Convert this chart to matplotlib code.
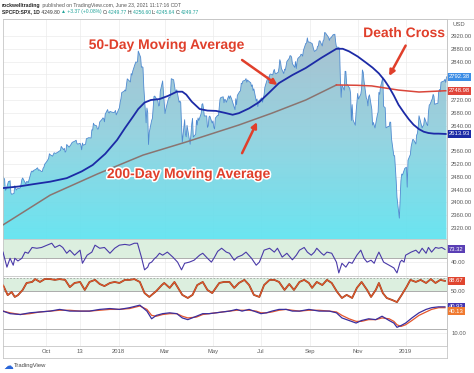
import matplotlib
matplotlib.use("Agg")
import matplotlib.pyplot as plt
import matplotlib.dates as mdates
import matplotlib.patheffects as pe
import matplotlib.transforms as mtrans
from matplotlib.lines import Line2D
from matplotlib.colors import LinearSegmentedColormap
import numpy as np
import pandas as pd

plt.rcParams['font.family'] = ['Liberation Sans', 'DejaVu Sans']

# S&P 500 daily closes
price_dates = [
    "2017-08-07", "2017-08-08", "2017-08-09", "2017-08-10", "2017-08-11", "2017-08-14", "2017-08-15", "2017-08-16",
    "2017-08-17", "2017-08-18", "2017-08-21", "2017-08-22", "2017-08-23", "2017-08-24", "2017-08-25", "2017-08-28",
    "2017-08-29", "2017-08-30", "2017-08-31", "2017-09-01", "2017-09-05", "2017-09-06", "2017-09-07", "2017-09-08",
    "2017-09-11", "2017-09-12", "2017-09-13", "2017-09-14", "2017-09-15", "2017-09-18", "2017-09-19", "2017-09-20",
    "2017-09-21", "2017-09-22", "2017-09-25", "2017-09-26", "2017-09-27", "2017-09-28", "2017-09-29", "2017-10-02",
    "2017-10-04", "2017-10-05", "2017-10-06", "2017-10-09", "2017-10-11", "2017-10-13", "2017-10-16", "2017-10-18",
    "2017-10-19", "2017-10-20", "2017-10-23", "2017-10-24", "2017-10-25", "2017-10-26", "2017-10-27", "2017-10-30",
    "2017-11-01", "2017-11-03", "2017-11-06", "2017-11-08", "2017-11-09", "2017-11-10", "2017-11-13", "2017-11-14",
    "2017-11-15", "2017-11-16", "2017-11-17", "2017-11-20", "2017-11-21", "2017-11-24", "2017-11-27", "2017-11-28",
    "2017-11-29", "2017-11-30", "2017-12-01", "2017-12-04", "2017-12-05", "2017-12-06", "2017-12-07", "2017-12-08",
    "2017-12-11", "2017-12-12", "2017-12-13", "2017-12-14", "2017-12-15", "2017-12-18", "2017-12-19", "2017-12-20",
    "2017-12-21", "2017-12-22", "2017-12-26", "2017-12-27", "2017-12-28", "2017-12-29",
    "2018-01-02", "2018-01-03", "2018-01-04", "2018-01-05", "2018-01-08", "2018-01-09", "2018-01-10", "2018-01-11",
    "2018-01-12", "2018-01-16", "2018-01-17", "2018-01-18", "2018-01-19", "2018-01-22", "2018-01-23", "2018-01-24",
    "2018-01-25", "2018-01-26", "2018-01-29", "2018-01-30", "2018-01-31",
    "2018-02-01", "2018-02-02", "2018-02-05", "2018-02-06", "2018-02-07", "2018-02-08", "2018-02-09", "2018-02-12",
    "2018-02-13", "2018-02-14", "2018-02-15", "2018-02-16", "2018-02-20", "2018-02-21", "2018-02-22", "2018-02-23",
    "2018-02-26", "2018-02-27", "2018-02-28",
    "2018-03-01", "2018-03-02", "2018-03-05", "2018-03-06", "2018-03-07", "2018-03-08", "2018-03-09", "2018-03-12",
    "2018-03-13", "2018-03-14", "2018-03-15", "2018-03-16", "2018-03-19", "2018-03-20", "2018-03-21", "2018-03-22",
    "2018-03-23", "2018-03-26", "2018-03-27", "2018-03-28", "2018-03-29",
    "2018-04-02", "2018-04-03", "2018-04-04", "2018-04-05", "2018-04-06", "2018-04-09", "2018-04-10", "2018-04-11",
    "2018-04-12", "2018-04-13", "2018-04-16", "2018-04-17", "2018-04-18", "2018-04-19", "2018-04-20", "2018-04-23",
    "2018-04-24", "2018-04-25", "2018-04-26", "2018-04-27", "2018-04-30",
    "2018-05-01", "2018-05-02", "2018-05-03", "2018-05-04", "2018-05-07", "2018-05-08", "2018-05-09", "2018-05-10",
    "2018-05-11", "2018-05-14", "2018-05-15", "2018-05-16", "2018-05-17", "2018-05-18", "2018-05-21", "2018-05-22",
    "2018-05-23", "2018-05-24", "2018-05-25", "2018-05-29", "2018-05-30", "2018-05-31",
    "2018-06-01", "2018-06-04", "2018-06-05", "2018-06-06", "2018-06-07", "2018-06-08", "2018-06-11", "2018-06-12",
    "2018-06-13", "2018-06-14", "2018-06-15", "2018-06-18", "2018-06-19", "2018-06-20", "2018-06-21", "2018-06-22",
    "2018-06-25", "2018-06-26", "2018-06-27", "2018-06-28", "2018-06-29",
    "2018-07-02", "2018-07-03", "2018-07-05", "2018-07-06", "2018-07-09", "2018-07-10", "2018-07-11", "2018-07-12",
    "2018-07-13", "2018-07-16", "2018-07-17", "2018-07-18", "2018-07-19", "2018-07-20", "2018-07-23", "2018-07-24",
    "2018-07-25", "2018-07-26", "2018-07-27", "2018-07-30", "2018-07-31",
    "2018-08-01", "2018-08-02", "2018-08-03", "2018-08-06", "2018-08-07", "2018-08-08", "2018-08-09", "2018-08-10",
    "2018-08-13", "2018-08-14", "2018-08-15", "2018-08-16", "2018-08-17", "2018-08-20", "2018-08-21", "2018-08-22",
    "2018-08-23", "2018-08-24", "2018-08-27", "2018-08-28", "2018-08-29", "2018-08-30", "2018-08-31",
    "2018-09-04", "2018-09-05", "2018-09-06", "2018-09-07", "2018-09-10", "2018-09-11", "2018-09-12", "2018-09-13",
    "2018-09-14", "2018-09-17", "2018-09-18", "2018-09-19", "2018-09-20", "2018-09-21", "2018-09-24", "2018-09-25",
    "2018-09-26", "2018-09-27", "2018-09-28",
    "2018-10-01", "2018-10-02", "2018-10-03", "2018-10-04", "2018-10-05", "2018-10-08", "2018-10-09", "2018-10-10",
    "2018-10-11", "2018-10-12", "2018-10-15", "2018-10-16", "2018-10-17", "2018-10-18", "2018-10-19", "2018-10-22",
    "2018-10-23", "2018-10-24", "2018-10-25", "2018-10-26", "2018-10-29", "2018-10-30", "2018-10-31",
    "2018-11-01", "2018-11-02", "2018-11-05", "2018-11-06", "2018-11-07", "2018-11-08", "2018-11-09", "2018-11-12",
    "2018-11-13", "2018-11-14", "2018-11-15", "2018-11-16", "2018-11-19", "2018-11-20", "2018-11-21", "2018-11-23",
    "2018-11-26", "2018-11-27", "2018-11-28", "2018-11-29", "2018-11-30",
    "2018-12-03", "2018-12-04", "2018-12-06", "2018-12-07", "2018-12-10", "2018-12-11", "2018-12-12", "2018-12-13",
    "2018-12-14", "2018-12-17", "2018-12-18", "2018-12-19", "2018-12-20", "2018-12-21", "2018-12-24", "2018-12-26",
    "2018-12-27", "2018-12-28", "2018-12-31",
    "2019-01-02", "2019-01-03", "2019-01-04", "2019-01-07", "2019-01-08", "2019-01-09", "2019-01-10", "2019-01-11",
    "2019-01-14", "2019-01-15", "2019-01-16", "2019-01-17", "2019-01-18", "2019-01-22", "2019-01-23", "2019-01-24",
    "2019-01-25", "2019-01-28", "2019-01-29", "2019-01-30", "2019-01-31",
    "2019-02-01", "2019-02-04", "2019-02-05", "2019-02-06", "2019-02-07", "2019-02-08", "2019-02-11", "2019-02-12",
    "2019-02-13", "2019-02-14", "2019-02-15", "2019-02-19", "2019-02-20", "2019-02-21", "2019-02-22",
]
price_close = [
    2480.9, 2474.9, 2474.0, 2438.2, 2441.3, 2465.8, 2464.6, 2468.1,
    2430.0, 2425.6, 2428.4, 2452.5, 2444.0, 2439.0, 2443.1, 2444.2,
    2446.3, 2457.6, 2471.7, 2476.6, 2457.9, 2465.5, 2465.1, 2461.4,
    2488.1, 2496.5, 2498.4, 2495.6, 2500.2, 2503.9, 2506.7, 2508.2,
    2500.6, 2502.2, 2496.7, 2496.8, 2507.0, 2510.1, 2519.4, 2529.1,
    2537.7, 2552.1, 2549.3, 2544.7, 2555.2, 2553.2, 2557.6, 2561.3,
    2562.1, 2575.2, 2565.0, 2569.1, 2557.2, 2560.4, 2581.1, 2572.8,
    2579.4, 2587.8, 2591.1, 2594.4, 2584.6, 2582.3, 2584.8, 2578.9,
    2564.6, 2585.6, 2578.9, 2582.1, 2599.0, 2602.4, 2601.4, 2627.0,
    2626.1, 2647.6, 2642.2, 2639.4, 2629.6, 2629.3, 2637.0, 2651.5,
    2660.0, 2664.1, 2662.9, 2652.0, 2675.8, 2690.2, 2681.5, 2679.3,
    2684.6, 2683.3, 2680.5, 2682.6, 2687.5, 2673.6,
    2695.8, 2713.1, 2724.0, 2743.2, 2747.7, 2751.3, 2748.2, 2767.6,
    2786.2, 2776.4, 2802.6, 2798.0, 2810.3, 2833.0, 2839.1, 2837.5,
    2839.3, 2872.9, 2853.5, 2822.4, 2823.8,
    2822.0, 2762.1, 2648.9, 2695.1, 2681.7, 2581.0, 2619.6, 2656.0,
    2662.9, 2698.6, 2731.2, 2732.2, 2716.3, 2701.3, 2704.0, 2747.3,
    2779.6, 2744.3, 2713.8,
    2677.7, 2691.3, 2720.9, 2728.1, 2726.8, 2739.0, 2786.6, 2783.0,
    2765.3, 2749.5, 2747.3, 2752.0, 2712.9, 2716.9, 2711.9, 2643.7,
    2588.3, 2658.6, 2612.6, 2605.0, 2640.9,
    2581.9, 2614.5, 2644.7, 2662.8, 2604.5, 2613.2, 2656.9, 2642.2,
    2664.0, 2656.3, 2677.8, 2706.4, 2708.6, 2693.1, 2670.1, 2670.3,
    2634.6, 2639.4, 2666.9, 2669.9, 2648.1,
    2654.8, 2635.7, 2629.7, 2663.4, 2672.6, 2671.9, 2697.8, 2723.1,
    2727.7, 2730.1, 2711.5, 2722.5, 2720.1, 2713.0, 2733.0, 2724.4,
    2733.3, 2727.8, 2721.3, 2689.9, 2724.0, 2705.3,
    2734.6, 2746.9, 2748.8, 2772.4, 2770.4, 2779.0, 2782.0, 2786.9,
    2775.6, 2782.5, 2779.7, 2773.9, 2762.6, 2767.3, 2749.8, 2754.9,
    2717.1, 2723.1, 2699.6, 2716.3, 2718.4,
    2726.7, 2713.2, 2736.6, 2759.8, 2784.2, 2793.8, 2774.0, 2798.3,
    2801.3, 2798.4, 2809.6, 2815.6, 2804.5, 2801.8, 2807.0, 2820.4,
    2846.1, 2837.4, 2818.8, 2802.6, 2816.3,
    2813.4, 2827.2, 2840.4, 2850.4, 2858.5, 2857.7, 2853.6, 2833.3,
    2821.9, 2840.0, 2818.4, 2840.7, 2850.1, 2857.1, 2863.0, 2861.8,
    2857.0, 2874.7, 2896.7, 2897.5, 2914.0, 2901.1, 2901.5,
    2896.7, 2888.6, 2878.1, 2871.7, 2877.1, 2887.9, 2888.9, 2904.2,
    2905.0, 2888.8, 2904.3, 2908.0, 2930.8, 2929.7, 2919.4, 2915.6,
    2906.0, 2914.0, 2914.0,
    2924.6, 2923.4, 2925.5, 2901.6, 2885.6, 2884.4, 2880.3, 2785.7,
    2728.4, 2767.1, 2750.8, 2809.9, 2809.2, 2768.8, 2767.8, 2755.9,
    2740.7, 2656.1, 2705.6, 2658.7, 2641.3, 2682.6, 2711.7,
    2740.4, 2723.1, 2738.3, 2755.5, 2813.9, 2806.8, 2781.0, 2726.2,
    2722.2, 2701.6, 2730.2, 2736.3, 2690.7, 2641.9, 2649.9, 2632.6,
    2673.5, 2682.2, 2743.8, 2737.8, 2760.2,
    2790.4, 2700.1, 2696.0, 2633.1, 2637.7, 2636.8, 2651.1, 2650.5,
    2600.0, 2545.9, 2546.2, 2507.0, 2467.4, 2416.6, 2351.1, 2467.7,
    2488.8, 2485.7, 2506.9,
    2510.0, 2447.9, 2531.9, 2549.7, 2574.4, 2585.0, 2596.6, 2596.3,
    2582.6, 2610.3, 2616.1, 2636.0, 2670.7, 2632.9, 2638.7, 2642.3,
    2664.8, 2643.9, 2640.0, 2681.1, 2704.1,
    2706.5, 2724.9, 2737.7, 2731.6, 2706.1, 2707.9, 2709.8, 2744.7,
    2753.0, 2745.7, 2775.6, 2779.8, 2784.7, 2774.9, 2792.4,
]

# indicator series, x = days since the first bar (2017-08-07)
start_date = "2017-08-07"
ma50_days = [0, 20, 38, 60, 81, 100, 114, 130, 145, 155, 165, 172, 180, 188, 199, 210, 221, 228, 233,
             240, 250, 260, 271, 282, 292, 300, 313, 326, 338, 351, 368, 385, 405, 424, 432, 440, 451,
             462, 470, 478, 485, 491, 497, 503, 510, 516, 522, 529, 535, 541, 548, 554, 563]
ma50_vals = [2445, 2450, 2457, 2465, 2476, 2497, 2517, 2552, 2595, 2632, 2667, 2692, 2712, 2720, 2723,
             2733, 2746, 2746, 2737, 2715, 2692, 2687, 2686, 2680, 2674, 2679, 2694, 2714, 2742, 2773,
             2798, 2820, 2852, 2880, 2880, 2872, 2856, 2836, 2821, 2803, 2782, 2760, 2734, 2705, 2680,
             2660, 2643, 2629, 2621, 2617, 2615, 2615, 2614]
ma200_days = [0, 60, 120, 178, 233, 300, 342, 385, 424, 450, 469, 503, 529, 563]
ma200_vals = [2330, 2423, 2489, 2548, 2589, 2642, 2679, 2720, 2767, 2766, 2764, 2751, 2745, 2749]
ma200_turn_day = 424

rsi_days = [0, 5, 9, 13, 15, 19, 24, 28, 32, 37, 43, 49, 56, 62, 66, 72, 76, 81, 85, 91, 98, 101, 107,
            113, 117, 123, 129, 136, 142, 148, 155, 161, 167, 171, 176, 180, 184, 186, 189, 193, 195,
            199, 203, 209, 216, 222, 227, 231, 237, 243, 250, 254, 260, 265, 269, 273, 278, 284, 288,
            294, 298, 304, 309, 316, 322, 326, 332, 339, 345, 349, 355, 361, 368, 373, 377, 383, 387,
            392, 396, 399, 405, 408, 412, 418, 424, 427, 431, 436, 440, 444, 450, 455, 459, 463, 468,
            472, 475, 478, 484, 491, 497, 501, 505, 507, 510, 512, 519, 525, 529, 533, 538, 541, 545,
            550, 554, 558, 562]
rsi_vals = [66, 27, 50, 32, 50, 43, 50, 66, 63, 78, 76, 78, 84, 89, 78, 84, 78, 63, 71, 58, 71, 37, 58,
            66, 84, 76, 78, 63, 76, 84, 86, 84, 89, 89, 53, 20, 27, 37, 40, 50, 53,
            63, 58, 66, 53, 40, 20, 37, 40, 45, 58, 63, 50, 40, 53, 68, 76, 66, 63,
            45, 53, 58, 66, 50, 32, 40, 71, 76, 66, 76, 53, 63, 46, 58, 71, 78, 66,
            58, 66, 76, 63, 58, 66, 63, 40, 12, 37, 27, 40, 37, 58, 71, 50, 40, 45,
            37, 53, 66, 40, 32, 25, 12, 40, 45, 40, 58, 66, 71, 63, 76, 63, 78, 66,
            78, 76, 78, 73]

stoch_days = [0, 6, 11, 15, 19, 25, 30, 37, 41, 47, 53, 60, 66, 72, 79, 85, 91, 98, 104, 110, 117, 123,
              129, 136, 142, 148, 155, 161, 167, 174, 180, 186, 195, 202, 205, 212, 218, 222, 228, 235,
              241, 247, 254, 260, 266, 275, 281, 288, 294, 300, 307, 313, 319, 326, 332, 339, 345, 351,
              358, 364, 370, 377, 383, 389, 393, 399, 406, 412, 418, 425, 431, 437, 444, 450, 456, 463,
              468, 474, 478, 483, 488, 495, 501, 507, 513, 518, 525, 531, 538, 544, 550, 556, 562]
stoch_vals = [73, 34, 46, 27, 34, 54, 81, 85, 96, 85, 96, 96, 93, 96, 93, 65, 81, 85, 54, 85, 93, 77,
              69, 81, 85, 81, 93, 93, 96, 85, 42, 27, 50, 73, 81, 62, 85, 65, 35, 23,
              35, 73, 85, 54, 42, 81, 85, 85, 62, 81, 93, 73, 35, 27, 73, 93, 93, 85,
              54, 77, 54, 85, 93, 81, 62, 85, 73, 93, 81, 46, 23, 35, 23, 62, 85, 54,
              27, 54, 81, 42, 23, 15, 7, 35, 65, 93, 85, 93, 81, 96, 81, 93, 89]

osc_days = [0, 9, 22, 34, 47, 60, 72, 85, 98, 110, 123, 136, 148, 161, 174, 183, 189, 195, 203, 212,
            221, 228, 235, 246, 254, 262, 271, 279, 288, 297, 304, 313, 322, 328, 335, 342, 351, 360,
            368, 377, 389, 402, 415, 424, 431, 440, 449, 456, 465, 474, 482, 491, 497, 501, 506, 512,
            520, 529, 538, 545, 554, 562]
osc_fast = [36, 33, 32, 34, 35, 36, 38, 36, 36, 36, 38, 39, 38, 40, 43, 36, 27, 31, 33, 34,
            33, 28, 26, 30, 33, 33, 34, 35, 36, 38, 36, 38, 35, 33, 34, 36, 38, 38,
            36, 36, 38, 36, 36, 34, 28, 25, 22, 25, 27, 26, 30, 25, 22, 17, 19, 22,
            28, 34, 38, 40, 41, 41]
osc_slow = [36, 34, 32, 33, 35, 36, 37, 37, 36, 36, 37, 38, 38, 39, 42, 38, 31, 30, 32, 33,
            33, 30, 28, 29, 32, 33, 34, 35, 36, 37, 37, 37, 36, 34, 34, 35, 37, 38,
            37, 36, 37, 37, 36, 35, 31, 27, 24, 24, 26, 26, 28, 27, 24, 20, 18, 20,
            25, 31, 35, 38, 40, 40]

tick_dates = ["2017-10-01", "2017-11-13", "2018-01-01", "2018-03-01", "2018-05-01",
              "2018-07-01", "2018-09-01", "2018-11-01", "2019-01-01"]
tick_labels = ["Oct", "13", "2018", "Mar", "May", "Jul", "Sep", "Nov", "2019"]
price_ticks = list(range(2320, 2921, 40))


def day_x(days):
    return mdates.date2num(pd.Timestamp(start_date) + pd.to_timedelta(days, unit="D"))


def dnum(s):
    return mdates.date2num(pd.Timestamp(s))


fig = plt.figure(figsize=(4.74, 3.73), dpi=100)
FW, FH = 474.0, 373.0


def px_axes(top, bottom):
    return fig.add_axes([3 / FW, 1 - bottom / FH, 444 / FW, (bottom - top) / FH])


ax = px_axes(19, 239)
ax_rsi = px_axes(239, 276)
ax_st = px_axes(276, 303)
ax_osc = px_axes(303, 346)

x0 = dnum(price_dates[0])
x1 = dnum(price_dates[-1]) + 0.6
tick_x = [dnum(d) for d in tick_dates]
grey_txt = "#5a5a5a"
edge = "#c6c6c6"


def style(a):
    for s in a.spines.values():
        s.set_color(edge)
        s.set_linewidth(0.6)
    a.set_xlim(x0, x1)
    a.set_xticks(tick_x)
    a.grid(True, color="#ebebeb", lw=0.5)
    a.set_axisbelow(True)
    a.yaxis.tick_right()
    a.tick_params(length=0, labelsize=4.2, labelcolor=grey_txt, pad=3)
    a.tick_params(axis="x", labelbottom=False)


for a in (ax, ax_rsi, ax_st, ax_osc):
    style(a)

side = lambda a: mtrans.blended_transform_factory(a.transAxes, a.transData)


def value_box(a, y, txt, color):
    a.text(1.004, y, txt, transform=side(a), ha="left", va="center", fontsize=4.2,
           color="white", clip_on=False, zorder=10,
           bbox=dict(boxstyle="square,pad=0.25", fc=color, ec="none"))


# ---- price panel ----
px = np.array([dnum(d) for d in price_dates])
py = np.array(price_close)
ylo, yhi = 2286, 2973
poly = ax.fill_between(px, py, ylo, color="none", lw=0)
cmap = LinearSegmentedColormap.from_list("area", ["#5fe3f0", "#8fd0de", "#a3bccc"])
im = ax.imshow(np.linspace(0, 1, 256).reshape(-1, 1), aspect="auto", cmap=cmap,
               extent=[px[0], px[-1], ylo, 2935], origin="lower", zorder=1, alpha=0.93)
im.set_clip_path(poly.get_paths()[0], transform=ax.transData)
ax.plot(px, py, color="#4f8ad0", lw=0.6, zorder=2)

ax.plot(day_x(ma50_days), ma50_vals, color="#1c2aa6", lw=1.3, zorder=4)
d200 = np.array(ma200_days)
v200 = np.array(ma200_vals)
up = d200 <= ma200_turn_day
dn = d200 >= ma200_turn_day
ax.plot(day_x(d200[up]), v200[up], color="#8a7470", lw=1.1, zorder=3)
ax.plot(day_x(d200[dn]), v200[dn], color="#d9463a", lw=1.1, zorder=3)

ax.set_ylim(ylo, yhi)
ax.set_xlim(x0, x1)
ax.set_yticks(price_ticks)

# value boxes on the price scale hide the tick labels right behind them
box_levels = [price_close[-1], ma200_vals[-1], ma50_vals[-1]]
ax.yaxis.set_major_formatter(plt.FuncFormatter(
    lambda v, p: "" if min(abs(v - b) for b in box_levels) < 22 else f"{v:.2f}"))
ax.text(1.012, 0.975, "USD", transform=ax.transAxes, fontsize=4.2, color=grey_txt,
        ha="left", va="center", clip_on=False)

value_box(ax, price_close[-1], "2792.38", "#3d8ee6")
value_box(ax, ma200_vals[-1], "2748.98", "#e0453a")
value_box(ax, ma50_vals[-1], "2613.93", "#1c2aa6")

red = "#e03f2b"
halo = [pe.withStroke(linewidth=2.2, foreground="white")]
tkw = dict(ha="center", va="center", fontsize=10, fontweight="bold", color=red,
           path_effects=halo, zorder=8)
akw = dict(arrowstyle="-|>", color=red, lw=1.8, mutation_scale=8, shrinkA=0, shrinkB=0)
ax.text(dnum("2018-03-03"), 2892, "50-Day Moving Average", **tkw)
ax.annotate("", xy=(dnum("2018-07-22"), 2767), xytext=(dnum("2018-06-07"), 2845),
            arrowprops=akw, zorder=8)
ax.text(dnum("2018-03-31"), 2489, "200-Day Moving Average", **tkw)
ax.annotate("", xy=(dnum("2018-06-26"), 2651), xytext=(dnum("2018-06-07"), 2554),
            arrowprops=akw, zorder=8)
ax.text(dnum("2018-12-30"), 2929, "Death Cross", **tkw)
ax.annotate("", xy=(dnum("2018-12-11"), 2795), xytext=(dnum("2019-01-01"), 2890),
            arrowprops=akw, zorder=8)

# ---- RSI ----
band = "#dcefdf"
ax_rsi.axhspan(50, 100, color=band, zorder=0.6, lw=0)
ax_rsi.axhline(50, color="#a0a0a0", lw=0.6, zorder=0.7)
ax_rsi.plot(day_x(rsi_days), rsi_vals, color="#4a3aa8", lw=0.8, zorder=3)
ax_rsi.set_ylim(4, 100)
ax_rsi.set_yticks([40])
ax_rsi.set_yticklabels(["40.00"])
value_box(ax_rsi, rsi_vals[-1], "73.32", "#5a3fb5")

# ---- stochastic ----
ax_st.axhspan(50, 100, color=band, zorder=0.6, lw=0)
ax_st.axhline(100, color="#a0a0a0", lw=0.6, ls=(0, (2, 2)), zorder=0.7)
ax_st.axhline(50, color="#a0a0a0", lw=0.6, zorder=0.7)
ax_st.plot(day_x(stoch_days), stoch_vals, color="#8a3a20", lw=1.3, zorder=2)
ax_st.plot(day_x(stoch_days), stoch_vals, color="#ea5a2a", lw=0.7, zorder=3)
ax_st.set_ylim(3.6, 108)
ax_st.set_yticks([50])
ax_st.set_yticklabels(["50.00"])
value_box(ax_st, stoch_vals[-1], "88.67", "#e0452f")

# ---- oscillator ----
ax_osc.axhline(15, color="#b0b0b0", lw=0.7, zorder=0.7)
ax_osc.plot(day_x(osc_days), osc_slow, color="#e4562c", lw=0.9, zorder=3)
ax_osc.plot(day_x(osc_days), osc_fast, color="#3a2e9e", lw=0.9, zorder=4)
ax_osc.set_ylim(-4.9, 45.5)
ax_osc.set_yticks([10])
ax_osc.set_yticklabels(["10.00"])
value_box(ax_osc, 40.93, "40.93", "#4536b0")
value_box(ax_osc, 35.8, "40.13", "#f07a30")

ax_osc.set_xticks(tick_x)
ax_osc.set_xticklabels(tick_labels)
ax_osc.tick_params(axis="x", labelbottom=True, pad=2.5, labelsize=4.2)

# ---- frame lines ----
fy = lambda p: 1 - p / FH
fx = lambda p: p / FW
lk = dict(color=edge, lw=0.6)
fig.add_artist(Line2D([fx(3), fx(447)], [fy(358), fy(358)], **lk))
fig.add_artist(Line2D([fx(3), fx(3)], [fy(358), fy(346)], **lk))
fig.add_artist(Line2D([fx(447), fx(447)], [fy(358), fy(19)], **lk))
fig.add_artist(Line2D([fx(3), 1], [fy(19), fy(19)], **lk))

# ---- header / footer ----
renderer = fig.canvas.get_renderer()


def text_run(x, y, parts, size):
    for s, color, weight in parts:
        t = fig.text(x, y, s, fontsize=size, color=color, fontweight=weight,
                     ha="left", va="center")
        x += t.get_window_extent(renderer=renderer).width / fig.bbox.width


teal = "#22a39a"
dark = "#333333"
text_run(fx(2), fy(5), [("rockwelltrading", "#222222", "bold"),
                        (" published on TradingView.com, June 23, 2021 11:17:16 CDT", "#555555", "normal")], 3.7)
text_run(fx(2), fy(12), [("SPCFD:SPX, 1D", "#222222", "bold"), (" 4249.80 ", dark, "normal"),
                         ("▲ +3.37 (+0.08%) ", teal, "normal"),
                         ("O:", dark, "normal"), ("4249.77 ", teal, "normal"),
                         ("H:", dark, "normal"), ("4256.60 ", teal, "normal"),
                         ("L:", dark, "normal"), ("4245.64 ", teal, "normal"),
                         ("C:", dark, "normal"), ("4249.77", teal, "normal")], 3.6)

fig.text(fx(3), fy(366), "☁", fontsize=7, color="#2a66d8", family="DejaVu Sans",
         ha="left", va="center")
fig.text(fx(14), fy(366), "TradingView", fontsize=4.2, color="#444444", ha="left", va="center")

fig.savefig("out.png", dpi=100)
